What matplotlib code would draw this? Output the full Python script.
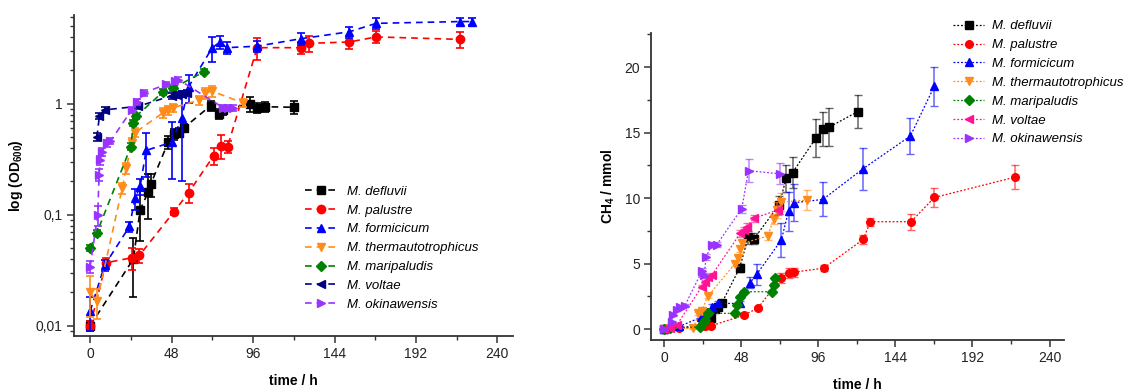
import matplotlib
matplotlib.use("Agg")
import matplotlib.pyplot as plt
from matplotlib.ticker import FixedLocator, MultipleLocator, LogLocator, NullFormatter, FuncFormatter

plt.rcParams['font.family'] = ['Liberation Sans', 'DejaVu Sans']
plt.rcParams['mathtext.fontset'] = 'custom'
plt.rcParams['mathtext.rm'] = 'Liberation Sans'
plt.rcParams['mathtext.bf'] = 'Liberation Sans:bold'
plt.rcParams['mathtext.it'] = 'Liberation Sans:italic'

species = ["M. defluvii", "M. palustre", "M. formicicum", "M. thermautotrophicus",
           "M. maripaludis", "M. voltae", "M. okinawensis"]
markers = ['s', 'o', '^', 'v', 'D', '<', '>']
colors_od = ['#000000', '#ff0000', '#0000ff', '#ff8c1a', '#008000', '#000080', '#9933ff']
colors_ch4 = ['#000000', '#ff0000', '#0000ff', '#ff8c1a', '#008000', '#ff1493', '#9933ff']

# ---- growth (OD600) ----
t_od_def = [0, 25.5, 29.5, 34.4, 35.8, 46, 49.7, 52.6, 55.4, 71, 75.7, 78.5, 94.3, 98.6, 103, 120]
od_def = [0.010, 0.040, 0.111, 0.162, 0.19, 0.45, 0.53, 0.55, 0.61, 0.96, 0.81, 0.88, 1.0, 0.92, 0.94, 0.93]
od_def_err = [0.001, 0.022, 0.053, 0.07, 0.045, 0.06, 0.06, 0.05, 0.05, 0.1, 0.08, 0.08, 0.15, 0.1, 0.1, 0.12]

t_od_pal = [0, 9.4, 24.5, 29, 49.5, 58, 72.8, 77.4, 81, 98.4, 124, 128.7, 152.7, 168.6, 218]
od_pal = [0.010, 0.037, 0.041, 0.043, 0.107, 0.158, 0.34, 0.42, 0.41, 3.2, 3.2, 3.5, 3.6, 4.0, 3.8]
od_pal_err = [0.001, 0.004, 0.009, 0.006, 0.008, 0.03, 0.06, 0.1, 0.05, 0.7, 0.4, 0.6, 0.5, 0.5, 0.6]

t_od_for = [0, 8.5, 23.2, 26.5, 29.5, 33, 48, 54, 58, 72, 76.6, 80.5, 98.4, 124, 152.7, 168.6, 218, 225]
od_for = [0.0135, 0.035, 0.0785, 0.141, 0.18, 0.38, 0.45, 0.75, 1.42, 3.2, 3.6, 3.2, 3.3, 3.85, 4.45, 5.3, 5.5, 5.5]
od_for_err = [0.0045, 0.004, 0.008, 0.03, 0.03, 0.16, 0.24, 0.55, 0.4, 0.8, 0.5, 0.4, 0.4, 0.5, 0.5, 0.6, 0.4, 0.4]

t_od_the = [0, 4, 19, 21.3, 24.6, 26.5, 43, 46, 49, 64.4, 67.8, 71.7, 90]
od_the = [0.020, 0.0166, 0.175, 0.265, 0.44, 0.55, 0.83, 0.88, 0.92, 1.08, 1.25, 1.3, 1.02]
od_the_err = [0.008, 0.005, 0.02, 0.03, 0.05, 0.05, 0.08, 0.08, 0.08, 0.1, 0.15, 0.15, 0.08]

t_od_mar = [0, 4, 24, 25.5, 27, 43, 48.7, 67.4]
od_mar = [0.050, 0.069, 0.41, 0.67, 0.77, 1.28, 1.38, 1.95]
od_mar_err = [0.003, 0.004, 0.03, 0.04, 0.04, 0.08, 0.08, 0.1]

t_od_vol = [4, 5.5, 8.5, 28.5, 48, 51, 54, 57]
od_vol = [0.50, 0.78, 0.88, 0.95, 1.18, 1.2, 1.22, 1.25]
od_vol_err = [0.04, 0.05, 0.05, 0.06, 0.08, 0.08, 0.08, 0.08]

t_od_oki = [0, 4.5, 5.3, 6, 7, 9.8, 12, 24.5, 27.5, 31.5, 45, 50, 52, 78.5, 81, 84]
od_oki = [0.034, 0.10, 0.23, 0.31, 0.37, 0.44, 0.46, 0.88, 1.04, 1.25, 1.5, 1.6, 1.65, 0.92, 0.92, 0.92]
od_oki_err = [0.004, 0.02, 0.03, 0.03, 0.03, 0.03, 0.03, 0.06, 0.06, 0.08, 0.08, 0.08, 0.08, 0.06, 0.06, 0.06]

# ---- methane production ----
t_ch_def = [0, 25.6, 29.3, 31.8, 33.8, 36, 47, 52.4, 56, 71.7, 76, 80, 94.6, 98.9, 102.5, 120.5]
ch_def = [0, 0.3, 0.85, 1.5, 1.7, 2.0, 4.65, 7.0, 6.9, 9.5, 11.5, 11.95, 14.6, 15.25, 15.4, 16.6]
ch_def_err = [0.05, 0.1, 0.15, 0.2, 0.2, 0.2, 0.3, 0.5, 0.4, 0.7, 1.0, 1.2, 1.45, 1.3, 1.45, 1.27]

t_ch_pal = [0, 9.4, 25.6, 29.3, 49.5, 58.4, 73, 77.5, 81, 99.3, 124, 128.5, 153.8, 168.3, 218.4]
ch_pal = [0, 0.05, 0.2, 0.25, 1.05, 1.6, 3.9, 4.3, 4.35, 4.65, 6.85, 8.2, 8.2, 10.05, 11.6]
ch_pal_err = [0.02, 0.05, 0.05, 0.05, 0.1, 0.15, 0.4, 0.4, 0.35, 0.25, 0.35, 0.3, 0.6, 0.7, 0.9]

t_ch_for = [0, 9.5, 23, 27, 29.7, 33.9, 47.4, 53.6, 57.8, 73, 77.5, 81, 98.9, 124, 153.4, 168.3]
ch_for = [0, 0.2, 0.9, 1.3, 1.7, 1.96, 1.96, 3.55, 4.2, 6.8, 9.0, 9.65, 9.9, 12.25, 14.75, 18.55]
ch_for_err = [0.02, 0.05, 0.1, 0.15, 0.2, 0.2, 0.2, 0.4, 0.8, 1.3, 1.5, 1.4, 1.3, 1.6, 1.4, 1.5]

t_ch_the = [0, 4, 18.3, 21.4, 23.5, 27.2, 44.3, 46.3, 47.4, 48.8, 64.6, 68.2, 70.3, 72.7, 89.3]
ch_the = [0, 0.05, 0.05, 1.2, 1.4, 2.5, 5.0, 5.45, 6.1, 6.55, 7.1, 8.4, 9.1, 9.7, 9.85]
ch_the_err = [0.02, 0.02, 0.05, 0.1, 0.1, 0.15, 0.2, 0.2, 0.25, 0.25, 0.3, 0.4, 0.6, 0.7, 0.77]

t_ch_mar = [0, 4, 22.4, 24, 25.6, 27.6, 44.3, 45.3, 47.4, 49.5, 67.1, 68.2, 69.2]
ch_mar = [0, 0.05, 0.18, 0.45, 0.7, 1.2, 1.2, 1.83, 2.47, 2.85, 2.85, 3.35, 3.87]
ch_mar_err = [0.02, 0.02, 0.05, 0.05, 0.08, 0.1, 0.1, 0.1, 0.12, 0.12, 0.12, 0.15, 0.15]

t_ch_vol = [0, 4, 7.9, 23.5, 25.6, 27.5, 29.7, 47.4, 49.5, 51.5, 55.7, 71]
ch_vol = [0, 0.1, 0.3, 3.25, 3.6, 4.0, 4.1, 7.3, 7.55, 7.8, 8.45, 9.1]
ch_vol_err = [0.02, 0.05, 0.05, 0.15, 0.15, 0.15, 0.15, 0.25, 0.25, 0.3, 0.3, 0.4]

t_ch_oki = [0, 4.8, 5.8, 7.9, 10, 13, 23.5, 25, 26.2, 29.7, 32.8, 48.4, 52.6, 72.3]
ch_oki = [0, 0.55, 1.05, 1.45, 1.65, 1.8, 4.4, 4.1, 5.5, 6.45, 6.45, 9.2, 12.1, 11.85]
ch_oki_err = [0.02, 0.05, 0.05, 0.1, 0.1, 0.1, 0.3, 0.2, 0.2, 0.2, 0.2, 0.3, 0.9, 0.8]

od_series = [(t_od_def, od_def, od_def_err), (t_od_pal, od_pal, od_pal_err),
             (t_od_for, od_for, od_for_err), (t_od_the, od_the, od_the_err),
             (t_od_mar, od_mar, od_mar_err), (t_od_vol, od_vol, od_vol_err),
             (t_od_oki, od_oki, od_oki_err)]
ch_series = [(t_ch_def, ch_def, ch_def_err), (t_ch_pal, ch_pal, ch_pal_err),
             (t_ch_for, ch_for, ch_for_err), (t_ch_the, ch_the, ch_the_err),
             (t_ch_mar, ch_mar, ch_mar_err), (t_ch_vol, ch_vol, ch_vol_err),
             (t_ch_oki, ch_oki, ch_oki_err)]

fig = plt.figure(figsize=(11.47, 3.90), dpi=100)
ax1 = fig.add_axes([0.0645, 0.1385, 0.3825, 0.823])
ax2 = fig.add_axes([0.5676, 0.128, 0.36, 0.787])


def style_axes(ax):
    for s in ('top', 'right'):
        ax.spines[s].set_visible(False)
    for s in ('left', 'bottom'):
        ax.spines[s].set_linewidth(1.3)
        ax.spines[s].set_color('#333333')
    ax.tick_params(which='major', direction='out', length=5, width=1.1,
                   colors='#333333', labelsize=10, labelcolor='#222222', pad=3)
    ax.tick_params(which='minor', direction='out', length=3, width=1.0, colors='#333333')
    ax.xaxis.set_major_locator(MultipleLocator(48))
    ax.xaxis.set_minor_locator(MultipleLocator(24))
    ax.set_xlabel('time / h', fontsize=10, fontweight='bold', labelpad=9)


# left: optical density (dashed connecting lines)
handles1 = []
for (t, y, e), m, c, name in zip(od_series, markers, colors_od, species):
    ms = 6.0 if m != 'D' else 5.2
    ax1.errorbar(t, y, yerr=e, fmt='none', ecolor=c, elinewidth=1.2, capsize=3, capthick=1.2)
    h, = ax1.plot(t, y, marker=m, ls=(0, (4, 3)), lw=1.2, color=c, ms=ms,
                  mec=c, mfc=c, label=name)
    handles1.append(h)
ax1.set_yscale('log')
ax1.set_xlim(-9.5, 249)
ax1.set_ylim(0.0081, 6.3)
style_axes(ax1)
ax1.yaxis.set_major_locator(FixedLocator([0.01, 0.1, 1]))
ax1.yaxis.set_major_formatter(FuncFormatter(lambda v, p: {0.01: '0,01', 0.1: '0,1', 1: '1'}.get(round(v, 3), '')))
ax1.yaxis.set_minor_locator(LogLocator(base=10, subs=range(2, 10)))
ax1.yaxis.set_minor_formatter(NullFormatter())
ax1.set_ylabel(r'log (OD$_{\mathbf{600}}$)', fontsize=10, fontweight='bold', labelpad=8)
ax1.legend(handles=handles1, loc='lower left', bbox_to_anchor=(0.515, 0.062), frameon=False,
           prop={'style': 'italic', 'size': 9.5}, handlelength=2.4, handletextpad=0.8,
           labelspacing=0.5, borderaxespad=0)

# right: methane (dotted connecting lines)
handles2 = []
for (t, y, e), m, c, name in zip(ch_series, markers, colors_ch4, species):
    ms = 5.5 if m != 'D' else 4.8
    ax2.errorbar(t, y, yerr=e, fmt='none', ecolor=c, elinewidth=1.1, capsize=3,
                 capthick=1.0, alpha=0.6)
    h, = ax2.plot(t, y, marker=m, ls=(0, (1.5, 1.5)), lw=0.9, color=c, ms=ms,
                  mec=c, mfc=c, label=name)
    handles2.append(h)
ax2.set_xlim(-8.1, 249)
ax2.set_ylim(-0.84, 22.6)
style_axes(ax2)
ax2.yaxis.set_major_locator(MultipleLocator(5))
ax2.yaxis.set_minor_locator(MultipleLocator(2.5))
ax2.set_ylabel(r'CH$_{\mathbf{4}}$ / mmol', fontsize=10, fontweight='bold', labelpad=5)
fig.legend(handles=handles2, loc='upper left', bbox_to_anchor=(0.826, 0.962), frameon=False,
           prop={'style': 'italic', 'size': 9.5}, handlelength=2.4, handletextpad=0.6,
           labelspacing=0.5, borderaxespad=0)

fig.savefig('out.png', dpi=100)
